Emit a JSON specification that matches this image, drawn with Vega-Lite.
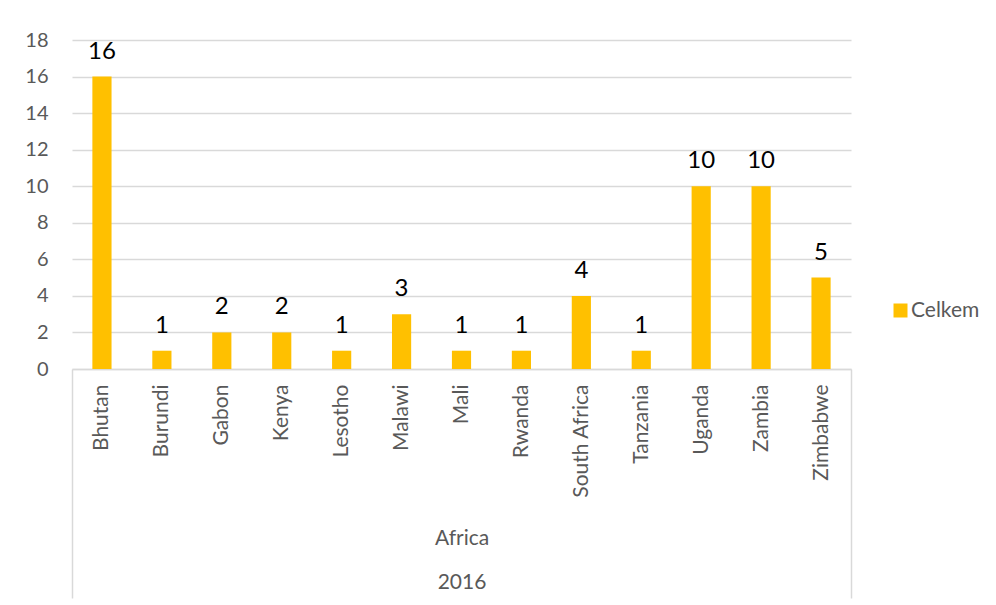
{
  "$schema": "https://vega.github.io/schema/vega-lite/v6.json",
  "autosize": {"type": "none"},
  "width": 779,
  "height": 329,
  "padding": {"left": 72, "top": 40, "right": 145, "bottom": 236},
  "background": "white",
  "config": {
    "view": {"stroke": null},
    "font": "Lato",
    "axis": {"labelFont": "Lato", "titleFont": "Lato"},
    "legend": {"labelFont": "Lato"}
  },
  "data": {
    "values": [
      {"country": "Bhutan", "value": 16},
      {"country": "Burundi", "value": 1},
      {"country": "Gabon", "value": 2},
      {"country": "Kenya", "value": 2},
      {"country": "Lesotho", "value": 1},
      {"country": "Malawi", "value": 3},
      {"country": "Mali", "value": 1},
      {"country": "Rwanda", "value": 1},
      {"country": "South Africa", "value": 4},
      {"country": "Tanzania", "value": 1},
      {"country": "Uganda", "value": 10},
      {"country": "Zambia", "value": 10},
      {"country": "Zimbabwe", "value": 5}
    ]
  },
  "encoding": {
    "x": {
      "field": "country",
      "type": "nominal",
      "sort": null,
      "scale": {"paddingInner": 0, "paddingOuter": 0},
      "axis": {
        "title": ["Africa", "2016"],
        "titleLineHeight": 44,
        "titleY": 175,
        "titleBaseline": "alphabetic",
        "titleFontSize": 21,
        "titleFontWeight": "normal",
        "titleColor": "#595959",
        "labelAngle": -90,
        "labelFontSize": 21,
        "labelColor": "#595959",
        "labelPadding": -214,
        "domainColor": "#d9d9d9",
        "domainWidth": 1.5,
        "tickBand": "extent",
        "tickSize": 229,
        "tickColor": "#d9d9d9",
        "tickWidth": 1.5,
        "tickOpacity": {"condition": {"test": "datum.index < 0 || datum.value === 'Zimbabwe'", "value": 1}, "value": 0}
      }
    },
    "y": {
      "field": "value",
      "type": "quantitative",
      "scale": {"domain": [0, 18]},
      "axis": {
        "title": null,
        "values": [0, 2, 4, 6, 8, 10, 12, 14, 16, 18],
        "domain": false,
        "ticks": false,
        "labelFontSize": 20,
        "labelColor": "#595959",
        "labelPadding": 24,
        "gridColor": "#d9d9d9",
        "gridWidth": 1.5
      }
    }
  },
  "layer": [
    {
      "mark": {"type": "bar", "width": {"band": 0.32}},
      "encoding": {
        "color": {
          "datum": "Celkem",
          "scale": {"domain": ["Celkem"], "range": ["#FFC000"]},
          "legend": {
            "title": null,
            "orient": "none",
            "legendX": 818,
            "legendY": 260,
            "symbolType": "square",
            "symbolSize": 196,
            "symbolStrokeWidth": 0,
            "symbolOpacity": 1,
            "labelFontSize": 21,
            "labelColor": "#595959",
            "labelOffset": 0
          }
        }
      }
    },
    {
      "mark": {"type": "text", "baseline": "alphabetic", "dy": -18, "fontSize": 24, "color": "#000000"},
      "encoding": {"text": {"field": "value", "type": "quantitative"}}
    }
  ]
}
